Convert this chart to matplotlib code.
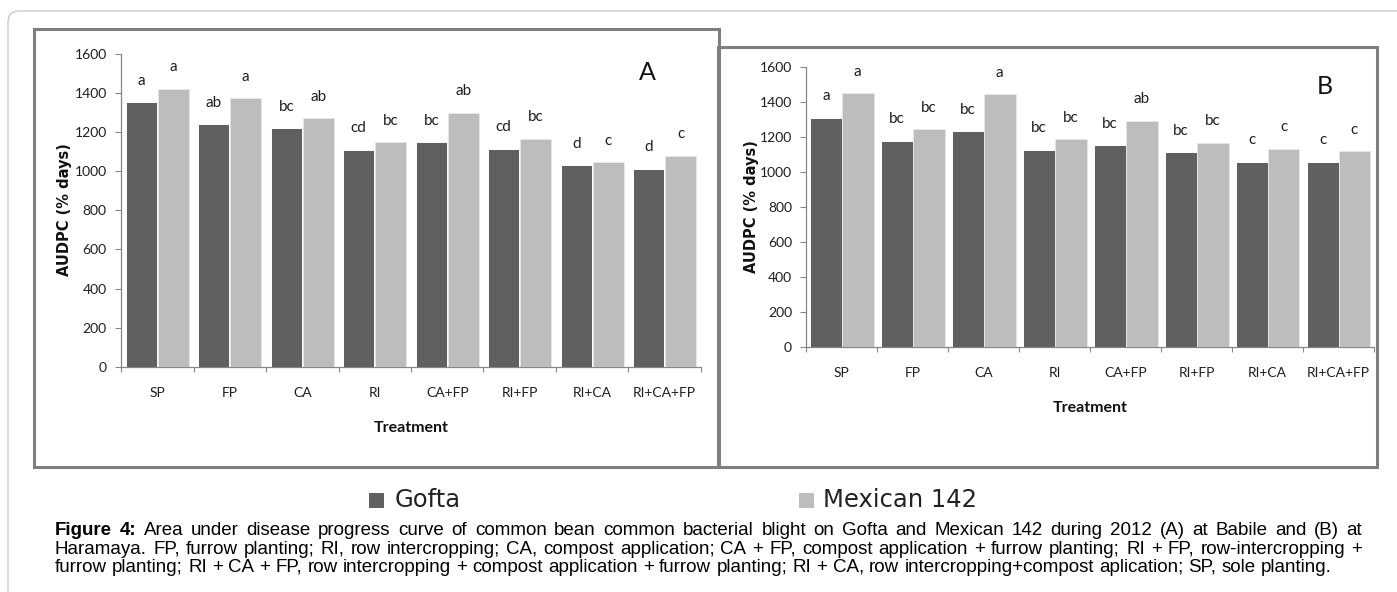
import matplotlib
matplotlib.use('Agg')
import matplotlib.pyplot as plt
import numpy as np
from matplotlib.patches import Rectangle, FancyBboxPatch

# ---------------- data ----------------
treatments = ['SP', 'FP', 'CA', 'RI', 'CA+FP', 'RI+FP', 'RI+CA', 'RI+CA+FP']
series_names = ['Gofta', 'Mexican 142']

gofta_a = [1352, 1240, 1219, 1110, 1148, 1115, 1030, 1013]
mexican_a = [1422, 1373, 1272, 1148, 1298, 1165, 1045, 1079]
gofta_a_letters = ['a', 'ab', 'bc', 'cd', 'bc', 'cd', 'd', 'd']
mexican_a_letters = ['a', 'a', 'ab', 'bc', 'ab', 'bc', 'c', 'c']

gofta_b = [1309, 1177, 1230, 1124, 1152, 1110, 1057, 1057]
mexican_b = [1448, 1242, 1442, 1185, 1291, 1164, 1130, 1118]
gofta_b_letters = ['a', 'bc', 'bc', 'bc', 'bc', 'bc', 'c', 'c']
mexican_b_letters = ['a', 'bc', 'a', 'bc', 'ab', 'bc', 'c', 'c']

yticks = [0, 200, 400, 600, 800, 1000, 1200, 1400, 1600]
ylabel = 'AUDPC (% days)'
xlabel = 'Treatment'
panel_letters = ['A', 'B']

caption_lines = [
    'Figure 4: Area under disease progress curve of common bean common bacterial blight on Gofta and Mexican 142 during 2012 (A) at Babile and (B) at',
    'Haramaya. FP, furrow planting; RI, row intercropping; CA, compost application; CA + FP, compost application + furrow planting; RI + FP, row-intercropping +',
    'furrow planting; RI + CA + FP, row intercropping + compost application + furrow planting; RI + CA, row intercropping+compost aplication; SP, sole planting.',
]

# ---------------- style ----------------
W, H = 1397, 592
DPI = 100
C_GOFTA = '#606060'
C_MEX = '#bdbdbd'
C_AXIS = '#868686'
C_BOX = '#7f7f7f'
C_TEXT = '#1e1e1e'
CHART_FONT = 'Lato'

fig = plt.figure(figsize=(W / DPI, H / DPI), dpi=DPI)
fig.patch.set_facecolor('white')

# background overlay in pixel coordinates
bg = fig.add_axes([0, 0, 1, 1], zorder=-5)
bg.set_xlim(0, W)
bg.set_ylim(H, 0)
bg.axis('off')

bg.add_patch(FancyBboxPatch((8, 11), 1600, 800,
                            boxstyle='round,pad=0,rounding_size=11',
                            fill=False, edgecolor='#c4c4c4', linewidth=0.9))
bg.add_patch(Rectangle((34, 29), 685, 438, fill=False, edgecolor=C_BOX, linewidth=2.2))
bg.add_patch(Rectangle((718, 47), 659, 420, fill=False, edgecolor=C_BOX, linewidth=2.2))


def px_axes(left, top, right, bottom):
    return fig.add_axes([left / W, 1 - bottom / H, (right - left) / W, (bottom - top) / H])


def draw_panel(ax, gofta, mex, g_letters, m_letters, off, width, letter, letter_xy):
    x = np.arange(len(treatments))
    ax.bar(x - off, gofta, width, color=C_GOFTA, edgecolor='white', linewidth=0.7, zorder=3)
    ax.bar(x + off, mex, width, color=C_MEX, edgecolor='#e6e6e6', linewidth=0.7, zorder=3)
    for xs, vals, labs in [(x - off, gofta, g_letters), (x + off, mex, m_letters)]:
        for xi, v, t in zip(xs, vals, labs):
            ax.annotate(t, (xi, v), xytext=(0, 15.5), textcoords='offset points',
                        ha='center', va='center', fontsize=11, family=CHART_FONT, color=C_TEXT)
    ax.set_xlim(-0.5, len(treatments) - 0.5)
    ax.set_ylim(0, 1600)
    ax.set_yticks(yticks)
    ax.set_yticklabels([str(v) for v in yticks], family=CHART_FONT, fontsize=10, color=C_TEXT)
    ax.set_xticks(x)
    ax.set_xticklabels(treatments, family=CHART_FONT, fontsize=10, color=C_TEXT)
    ax.set_xticks(np.arange(len(treatments) + 1) - 0.5, minor=True)
    ax.tick_params(axis='x', which='major', length=0, pad=14.5)
    ax.tick_params(axis='x', which='minor', length=3.8, width=0.8, color=C_AXIS, direction='out')
    ax.tick_params(axis='y', which='major', length=4.3, width=0.8, color=C_AXIS, direction='out', pad=6)
    for s in ['top', 'right']:
        ax.spines[s].set_visible(False)
    for s in ['left', 'bottom']:
        ax.spines[s].set_color(C_AXIS)
        ax.spines[s].set_linewidth(0.9)
    ax.set_facecolor('none')
    bg.text(letter_xy[0], letter_xy[1], letter, ha='center', va='center',
            fontsize=18, fontweight='normal', family=CHART_FONT, color='#111111')


axA = px_axes(121, 54, 701, 366.7)
draw_panel(axA, gofta_a, mexican_a, gofta_a_letters, mexican_a_letters,
           0.22, 0.43, panel_letters[0], (647, 72))
axB = px_axes(806.3, 66.7, 1374, 346.7)
draw_panel(axB, gofta_b, mexican_b, gofta_b_letters, mexican_b_letters,
           0.225, 0.45, panel_letters[1], (1325, 87))

# axis titles
bg.text(64, 210, ylabel, rotation=90, ha='center', va='center', fontsize=10.5,
        fontweight='bold', family='DejaVu Sans', color='#111111')
bg.text(751.5, 207, ylabel, rotation=90, ha='center', va='center', fontsize=10.5,
        fontweight='bold', family='DejaVu Sans', color='#111111')
bg.text(411, 428, xlabel, ha='center', va='center', fontsize=11.5,
        fontweight='bold', family=CHART_FONT, color='#111111')
bg.text(1090, 408, xlabel, ha='center', va='center', fontsize=11.5,
        fontweight='bold', family=CHART_FONT, color='#111111')

# legend
for (sx, tx, name, col) in [(369, 395, series_names[0], C_GOFTA), (799, 823, series_names[1], C_MEX)]:
    bg.add_patch(Rectangle((sx, 493), 15, 14.5, facecolor=col, edgecolor='none'))
    bg.text(tx, 500, name, ha='left', va='center', fontsize=17.5,
            family='DejaVu Sans', color='#222222')

# caption (justified like the original)
CAP_FONT = 'Liberation Sans'
r = fig.canvas.get_renderer()
probe = bg.text(0, 0, caption_lines[2], fontsize=10, family=CAP_FONT)
natural = probe.get_window_extent(r).width
probe.remove()
fs = 10 * (1335 - 55) / natural

p1 = bg.text(0, 0, 'a a', fontsize=fs, family=CAP_FONT)
p2 = bg.text(0, 0, 'aa', fontsize=fs, family=CAP_FONT)
space_w = p1.get_window_extent(r).width - p2.get_window_extent(r).width
p1.remove(); p2.remove()

x0, x1 = 55, 1362
baselines = [535, 553.5, 572]
for i, line in enumerate(caption_lines):
    words = line.split(' ')
    texts = []
    for j, wd in enumerate(words):
        bold = (i == 0 and j < 2)
        t = bg.text(0, baselines[i], wd, fontsize=fs, family=CAP_FONT,
                    fontweight='bold' if bold else 'normal', ha='left', va='baseline', color='black')
        texts.append(t)
    widths = [t.get_window_extent(r).width for t in texts]
    if i < 2:
        gap = (x1 - x0 - sum(widths)) / (len(words) - 1)
    else:
        gap = space_w
    x = x0
    for t, wdt in zip(texts, widths):
        t.set_x(x)
        x += wdt + gap

fig.savefig('out.png', dpi=DPI)
